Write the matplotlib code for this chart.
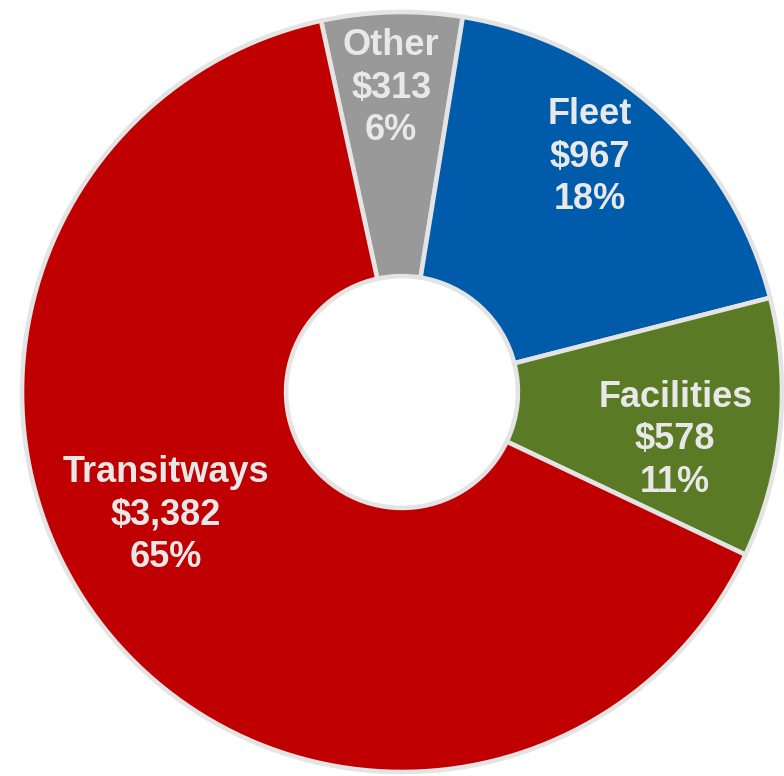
import numpy as np
import matplotlib.pyplot as plt

categories = ["Other", "Fleet", "Facilities", "Transitways"]
amounts = [313, 967, 578, 3382]
amount_labels = ["$313", "$967", "$578", "$3,382"]
pct_labels = ["6%", "18%", "11%", "65%"]
colors = ["#999999", "#005BAA", "#5B7A26", "#C00000"]

# radial position of each label as a fraction of the outer radius, and angle nudge
label_r = [0.80, 0.792, 0.73, 0.70]
label_dtheta = [0.5, 3.7, -4.4, -11.0]

plt.rcParams['font.family'] = ['Liberation Sans', 'DejaVu Sans']

fig = plt.figure(figsize=(7.84, 7.76), dpi=100)
ax = fig.add_axes([0, 0, 1, 1])

cx, cy, R = 402, 384, 380
wedges, _ = ax.pie(amounts, colors=colors, startangle=102.3, counterclock=False,
                   center=(cx, cy), radius=R, frame=True,
                   wedgeprops=dict(width=R * 0.695, edgecolor="#E4E4E4", linewidth=3.3))
ax.set_xlim(0, 784)
ax.set_ylim(0, 776)
ax.set_aspect('equal')
ax.axis('off')

for w, name, amt, pct, rf, dt in zip(wedges, categories, amount_labels, pct_labels, label_r, label_dtheta):
    mid = np.deg2rad((w.theta1 + w.theta2) / 2 + dt)
    x = cx + R * rf * np.cos(mid)
    y = cy + R * rf * np.sin(mid)
    ax.text(x, y, f"{name}\n{amt}\n{pct}", ha='center', va='center',
            fontsize=26, fontweight='bold', color="#E8E8E8", linespacing=1.28)

fig.savefig("out.png", dpi=100)
